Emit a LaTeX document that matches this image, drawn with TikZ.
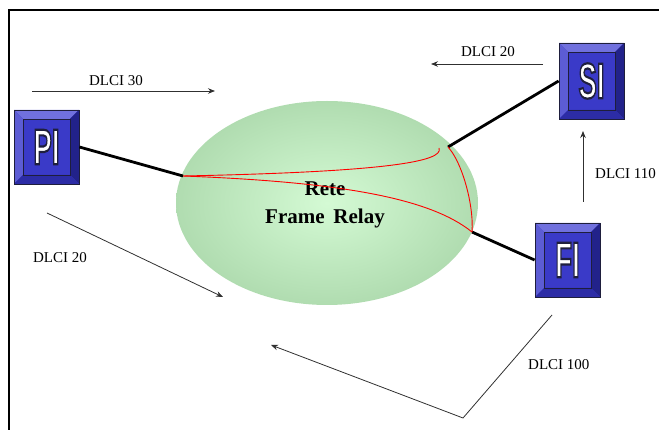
\documentclass[tikz,border=0pt]{standalone}
\usepackage{fontspec}
\setmainfont{Liberation Serif}
\newfontfamily\keyfont{Liberation Sans}
\usetikzlibrary{shapes.geometric,arrows.meta}

\definecolor{keyface}{HTML}{3A3AC8}
\definecolor{keytop}{HTML}{7070DE}
\definecolor{keyleft}{HTML}{5C5CD4}
\definecolor{keyright}{HTML}{22228A}
\definecolor{keybottom}{HTML}{2C2CA6}
\definecolor{keyedge}{HTML}{1E1E3C}
\definecolor{netin}{HTML}{D4FAD4}
\definecolor{netout}{HTML}{B0DCB0}
\definecolor{arrowgray}{HTML}{303030}

% white lettering with a dark rim (fill and stroke text rendering)
\newcommand\keylbl[1]{\scalebox{0.55}[1]{\keyfont\bfseries\fontsize{50}{50}\selectfont
  \color{white}\special{pdf:literal direct 0.12 0.12 0.24 RG 2 Tr 2.2 w}#1\special{pdf:literal direct 0 Tr}}}

\tikzset{
  keycap/.style={rectangle, draw=keyedge, line width=0.8pt, inner sep=0pt,
    minimum width=65pt, minimum height=#1, fill=keyface,
    path picture={
      \coordinate (nw) at (path picture bounding box.north west);
      \coordinate (ne) at (path picture bounding box.north east);
      \coordinate (sw) at (path picture bounding box.south west);
      \coordinate (se) at (path picture bounding box.south east);
      \fill[keytop] (nw) -- (ne) -- ([shift={(-9pt,-9pt)}]ne) -- ([shift={(9pt,-9pt)}]nw) -- cycle;
      \fill[keyleft] (nw) -- ([shift={(9pt,-9pt)}]nw) -- ([shift={(9pt,9pt)}]sw) -- (sw) -- cycle;
      \fill[keyright] (ne) -- (se) -- ([shift={(-9pt,9pt)}]se) -- ([shift={(-9pt,-9pt)}]ne) -- cycle;
      \fill[keybottom] (sw) -- ([shift={(9pt,9pt)}]sw) -- ([shift={(-9pt,9pt)}]se) -- (se) -- cycle;
      \draw[keyedge, line width=0.5pt] ([shift={(9pt,-9pt)}]nw) rectangle ([shift={(-9pt,9pt)}]se);
    }},
  keycap/.default=74pt,
  link/.style={line width=2.8pt, black},
  vc/.style={red, line width=0.9pt},
  dlci/.style={arrowgray, line width=0.8pt, -{Stealth[length=7pt,width=5.5pt]}},
  dlabel/.style={font=\fontsize{15}{15}\selectfont, inner sep=0pt},
}

\begin{document}
\begin{tikzpicture}[x=1pt, y=-1pt]
\useasboundingbox (0,0) rectangle (659,430);

% page frame
\draw[line width=2pt] (9,430) -- (9,10) -- (660,10);

% Frame Relay cloud
\node[ellipse, minimum width=302pt, minimum height=204pt, inner color=netin, outer color=netout] (net) at (327,203) {};
\node[align=center, font=\bfseries\fontsize{21}{28}\selectfont] (netname) at (325,205) {Rete\\Frame\ \,Relay};

% access devices
\node[keycap] (PI) at (46.5,147) {\keylbl{PI}};
\node[keycap=76pt] (SI) at (591.5,81) {\keylbl{SI}};
\node[keycap] (FI) at (567.5,260) {\keylbl{FI}};

% access points on the cloud
\coordinate (aPI) at (183,176);
\coordinate (aSI) at (448,147);
\coordinate (aFI) at (472,232);
\coordinate (aSIr) at (439,148);

\draw[link] (PI.east) -- (aPI);
\draw[link] (aSI) -- (SI.west);
\draw[link] (aFI) -- (FI.west);

% virtual circuits
\draw[vc] (aPI) .. controls (380,172) and (445,162) .. (aSIr);
\draw[vc] (aPI) .. controls (340,182) and (430,198) .. (aFI);
\draw[vc] (aSI) .. controls (462,162) and (474,205) .. (aFI);

% DLCI arrows
\coordinate (d30a) at (32,91);   \coordinate (d30b) at (215,91);
\coordinate (d20a) at (543,64);  \coordinate (d20b) at (431,64);
\coordinate (d20c) at (47,213);  \coordinate (d20d) at (223,297);
\coordinate (d110a) at (583,202); \coordinate (d110b) at (583,131);
\coordinate (d100a) at (552,315); \coordinate (d100b) at (463,418); \coordinate (d100c) at (271,345);

\draw[dlci] (d30a) -- (d30b);
\draw[dlci] (d20a) -- (d20b);
\draw[dlci] (d20c) -- (d20d);
\draw[dlci] (d110a) -- (d110b);
\draw[dlci] (d100a) -- (d100b) -- (d100c);

\node[dlabel] (l30) at (116,81) {DLCI 30};
\node[dlabel] (l20t) at (488,52) {DLCI 20};
\node[dlabel] (l20l) at (60,258) {DLCI 20};
\node[dlabel, anchor=west] (l110) at (595,174) {DLCI 110};
\node[dlabel, anchor=west] (l100) at (528,365) {DLCI 100};
\end{tikzpicture}
\end{document}
